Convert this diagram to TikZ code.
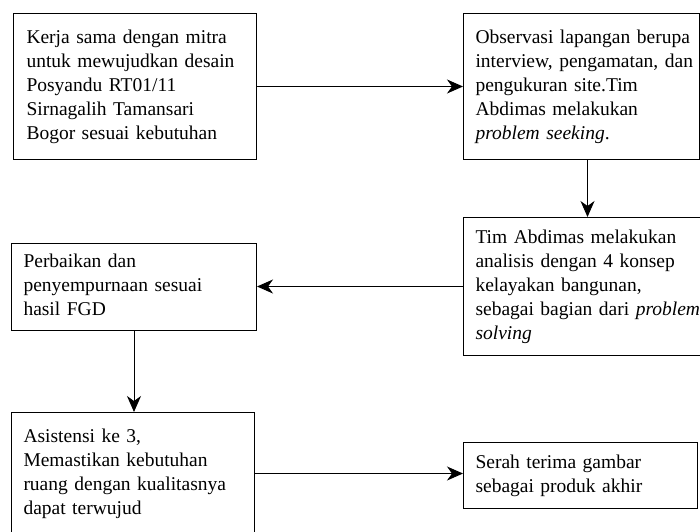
\documentclass[tikz,border=0pt]{standalone}
\usepackage{fontspec}
\setmainfont{Liberation Serif}[WordSpace=0.75]
\usetikzlibrary{arrows.meta}
\begin{document}
\begin{tikzpicture}[x=1pt,y=-1pt,
  flowbox/.style={draw, line width=1pt, rectangle, anchor=north west, align=left,
    font={\fontsize{19.5}{24}\selectfont}, inner xsep=12pt,
    execute at begin node=\strut, execute at end node=\strut},
  flowarrow/.style={draw, line width=1pt, -{Stealth[length=16pt,width=14pt,inset=5pt]}}]
\useasboundingbox (0,0) rectangle (700,531);
\clip (0,0) rectangle (700,531);
\node[flowbox, text width=217pt, inner xsep=13pt, inner ysep=13pt] (b1) at (13,13)
  {\mbox{Kerja sama dengan mitra}\\\mbox{untuk mewujudkan desain}\\\mbox{Posyandu RT01/11}\\\mbox{Sirnagalih Tamansari}\\\mbox{Bogor sesuai kebutuhan}};
\node[flowbox, text width=212pt, inner ysep=13pt] (b2) at (463,13)
  {\mbox{Observasi lapangan berupa}\\\mbox{interview, pengamatan, dan}\\\mbox{pengukuran site.Tim}\\\mbox{Abdimas melakukan}\\\mbox{\textit{problem seeking}.}};
\node[flowbox, text width=226pt, inner ysep=9pt] (b3) at (463,217)
  {\mbox{Tim Abdimas melakukan}\\\mbox{analisis dengan 4 konsep}\\\mbox{kelayakan bangunan,}\\\mbox{sebagai bagian dari \textit{problem}}\\\mbox{\textit{solving}}};
\node[flowbox, text width=221pt, inner ysep=7.5pt] (b4) at (11,243)
  {\mbox{Perbaikan dan}\\\mbox{penyempurnaan sesuai}\\\mbox{hasil FGD}};
\node[flowbox, text width=219pt, inner ysep=13pt] (b5) at (11,412)
  {\mbox{Asistensi ke 3,}\\\mbox{Memastikan kebutuhan}\\\mbox{ruang dengan kualitasnya}\\\mbox{dapat terwujud}};
\node[flowbox, text width=210pt, inner ysep=9pt] (b6) at (463,442)
  {\mbox{Serah terima gambar}\\\mbox{sebagai produk akhir}};
\draw[flowarrow] (b1.east) -- (b1.east -| b2.west);
\draw[flowarrow] ([xshift=6pt]b2.south) -- ([xshift=6pt]b2.south |- b3.north);
\draw[flowarrow] (b3.west) -- (b3.west -| b4.east);
\draw[flowarrow] (b4.south) -- (b4.south |- b5.north);
\draw[flowarrow] (b5.east) -- (b5.east -| b6.west);
\end{tikzpicture}
\end{document}
